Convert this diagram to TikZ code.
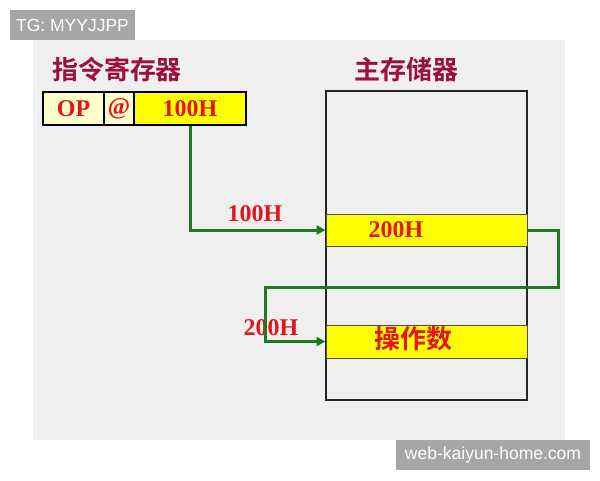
\documentclass[tikz,border=0pt]{standalone}
\usepackage{fontspec}
\setmainfont{Liberation Serif}
\setsansfont{Liberation Sans}
\newfontfamily\cjk{Noto Sans CJK SC}[BoldFont={* Bold}]
\usetikzlibrary{arrows.meta}
\definecolor{slidebg}{HTML}{EFEFEF}
\definecolor{wmgray}{HTML}{A6A6A6}
\definecolor{lightyel}{HTML}{FFFFCC}
\definecolor{yel}{HTML}{FFFF00}
\definecolor{txtred}{HTML}{E3141C}
\definecolor{titlered}{HTML}{9B1040}
\definecolor{arrgreen}{HTML}{1E7A1E}
\tikzset{
  cell/.style={draw=black, line width=1.2pt, inner sep=0pt, minimum height=33pt,
    font=\fontsize{24}{24}\selectfont\bfseries, text=txtred},
  row/.style={draw=black!70, line width=1pt, fill=yel, inner sep=0pt, minimum width=201pt},
  redlbl/.style={inner sep=0pt, font=\fontsize{24}{24}\selectfont\bfseries, text=txtred},
  title/.style={inner sep=0pt, font=\cjk\bfseries\fontsize{26}{26}\selectfont, text=titlered},
  arr/.style={draw=arrgreen, line width=3pt, -{Triangle[length=9pt,width=9pt]}},
  wm/.style={fill=wmgray, text=white, inner sep=0pt, font=\sffamily\fontsize{17.5}{17.5}\selectfont}
}
\begin{document}
\begin{tikzpicture}[x=1pt,y=-1pt]
\useasboundingbox (0,0) rectangle (600,480);
\fill[white] (0,0) rectangle (600,480);
\fill[slidebg] (33,40) rectangle (565,440);
% titles
\node[title] (t1) at (117,70) {指令寄存器};
\node[title] (t2) at (406,70) {主存储器};
% register
\node[cell, fill=lightyel, minimum width=61pt] (op) at (73.5,108.5) {OP};
\node[cell, fill=lightyel, minimum width=30pt] (at) at (119,108.5) {@};
\node[cell, fill=yel, minimum width=112pt] (addr) at (190,108.5) {100H};
% memory
\node[draw=black!85, line width=1.2pt, minimum width=201pt, minimum height=309pt, inner sep=0pt] (mem) at (426.5,245.5) {};
\node[row, minimum height=32pt] (r1) at (426.5,230) {};
\node[redlbl] (r1t) at (396,230) {200H};
\node[row, minimum height=33pt] (r2) at (426.5,341.5) {};
\node[redlbl, font=\cjk\bfseries\fontsize{26}{26}\selectfont] (r2t) at (413,339) {操作数};
% labels
\node[redlbl] (l1) at (255,214) {100H};
\node[redlbl] (l2) at (271,328) {200H};
% connectors
\coordinate (c1) at (558,230);
\coordinate (c2) at (558,287);
\coordinate (c3) at (265,287);
\draw[arr] (addr.south) -- (addr.south |- r1.west) -- (r1.west);
\draw[arr] (r1.east) -- (c1) -- (c2) -- (c3) -- (c3 |- r2.west) -- (r2.west);
% watermarks
\node[wm, minimum width=125pt, minimum height=30pt] (w1) at (72.5,25) {TG: MYYJJPP};
\node[wm, minimum width=194pt, minimum height=30pt] (w2) at (493,455) {web-kaiyun-home.com};
\end{tikzpicture}
\end{document}
